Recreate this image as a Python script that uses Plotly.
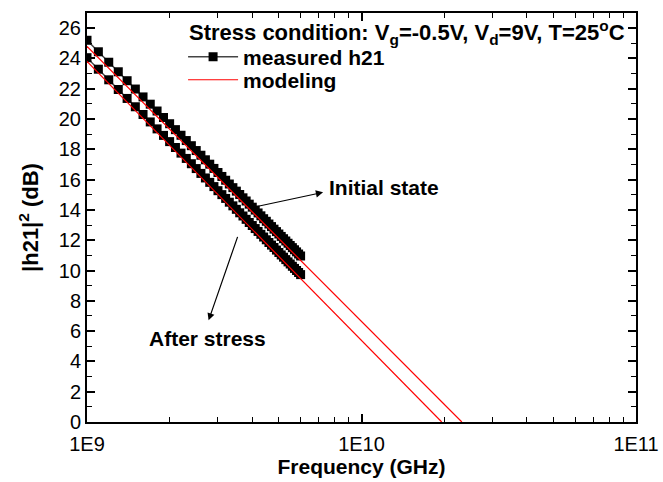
import plotly.graph_objects as go

# Frequency points of the measurement (GHz)
freq_ghz = [1.0, 1.1, 1.2, 1.3, 1.4, 1.5, 1.6, 1.7, 1.8, 1.9, 2.0, 2.1, 2.2, 2.3, 2.4, 2.5,
            2.6, 2.7, 2.8, 2.9, 3.0, 3.1, 3.2, 3.3, 3.4, 3.5, 3.6, 3.7, 3.8, 3.9, 4.0, 4.1,
            4.2, 4.3, 4.4, 4.5, 4.6, 4.7, 4.8, 4.9, 5.0, 5.1, 5.2, 5.3, 5.4, 5.5, 5.6, 5.7,
            5.8, 5.9, 6.0]
freq = [f * 1e9 for f in freq_ghz]

h21_initial = [25.20, 24.44, 23.75, 23.12, 22.53, 21.98, 21.46, 20.98, 20.53, 20.10, 19.69,
               19.30, 18.93, 18.58, 18.24, 17.92, 17.61, 17.31, 17.02, 16.74, 16.47, 16.21,
               15.96, 15.71, 15.47, 15.24, 15.02, 14.80, 14.59, 14.38, 14.18, 13.99, 13.80,
               13.61, 13.42, 13.25, 13.07, 12.90, 12.73, 12.57, 12.41, 12.25, 12.10, 11.95,
               11.80, 11.65, 11.51, 11.37, 11.23, 11.09, 10.96]
h21_stress = [24.05, 23.29, 22.59, 21.95, 21.36, 20.81, 20.30, 19.81, 19.35, 18.92, 18.51,
              18.12, 17.75, 17.40, 17.05, 16.73, 16.41, 16.11, 15.82, 15.54, 15.27, 15.01,
              14.76, 14.51, 14.27, 14.04, 13.81, 13.60, 13.38, 13.17, 12.97, 12.77, 12.58,
              12.39, 12.21, 12.03, 11.85, 11.68, 11.52, 11.35, 11.19, 11.03, 10.88, 10.72,
              10.57, 10.43, 10.28, 10.14, 10.00, 9.87, 9.73]

model_initial_f = [1e9, 2.32e10]
model_initial_y = [24.8, 0.0]
model_stress_f = [1e9, 1.96e10]
model_stress_y = [23.8, 0.0]

x_tickvals = [1e9, 1e10, 1e11]
x_ticktext = ["1E9", "1E10", "1E11"]
y_tickvals = [0, 2, 4, 6, 8, 10, 12, 14, 16, 18, 20, 22, 24, 26]

FONT = "Liberation Sans, Arial, sans-serif"

fig = go.Figure()
fig.add_trace(go.Scatter(x=freq, y=h21_initial, mode="lines+markers", name="<b>measured h21</b>",
                         line=dict(color="#444444", width=1.5),
                         marker=dict(symbol="square", size=9, color="black"),
                         showlegend=True, legend="legend"))
fig.add_trace(go.Scatter(x=freq, y=h21_stress, mode="lines+markers", name="<b>measured h21</b>",
                         line=dict(color="#444444", width=1.5),
                         marker=dict(symbol="square", size=9, color="black"),
                         showlegend=False))
fig.add_trace(go.Scatter(x=model_initial_f, y=model_initial_y, mode="lines", name="<b>modeling</b>",
                         line=dict(color="red", width=1.2), showlegend=True, legend="legend2"))
fig.add_trace(go.Scatter(x=model_stress_f, y=model_stress_y, mode="lines", name="<b>modeling</b>",
                         line=dict(color="red", width=1.2), showlegend=False))

minor_x = []
for dec in [1e9, 1e10]:
    for m in range(2, 10):
        minor_x.append(m * dec)

fig.update_xaxes(type="log", range=[9, 11], tickvals=x_tickvals, ticktext=x_ticktext,
                 ticks="inside", ticklen=8, tickwidth=1.5, tickcolor="black",
                 minor=dict(tickvals=minor_x, ticks="inside", ticklen=5, tickwidth=1.2,
                            tickcolor="black"),
                 showline=True, linecolor="black", linewidth=2, mirror="allticks",
                 showgrid=False, zeroline=False, automargin=False, ticklabelstandoff=3,
                 tickfont=dict(family=FONT, size=20, color="black"),
                 title=dict(text="<b>Frequency (GHz)</b>", font=dict(family=FONT, size=21, color="black"),
                            standoff=4))
fig.update_yaxes(range=[0, 27], tickvals=y_tickvals,
                 ticks="inside", ticklen=8, tickwidth=1.5, tickcolor="black",
                 minor=dict(dtick=1, ticks="inside", ticklen=5, tickwidth=1.2, tickcolor="black"),
                 showline=True, linecolor="black", linewidth=2, mirror="allticks",
                 showgrid=False, zeroline=False, automargin=False,
                 tickfont=dict(family=FONT, size=20, color="black"),
                 title=dict(text="<b>|h21|<sup>2</sup> (dB)</b>", font=dict(family=FONT, size=22, color="black"),
                            standoff=14))

legend_common = dict(xanchor="left", yanchor="middle", bgcolor="rgba(0,0,0,0)", borderwidth=0,
                     font=dict(family=FONT, size=21, color="black"), itemwidth=50,
                     tracegroupgap=0)

fig.update_layout(
    width=663, height=482,
    margin=dict(l=87, r=27, t=13, b=60, autoexpand=False),
    plot_bgcolor="white", paper_bgcolor="white",
    font=dict(family=FONT, color="black"),
    legend=dict(x=0.175, y=0.892, **legend_common),
    legend2=dict(x=0.175, y=0.836, **legend_common),
    annotations=[
        dict(x=0.182, y=0.953, xref="paper", yref="paper", xanchor="left", yanchor="middle",
             text="<b>Stress condition: V<sub>g</sub>=-0.5V, V<sub>d</sub>=9V, T=25<sup>o</sup>C</b>",
             showarrow=False, font=dict(family=FONT, size=22, color="black")),
        dict(x=9.86, y=15.16, xref="x", yref="y", text="", showarrow=True,
             arrowhead=2, arrowsize=1.2, arrowwidth=1.2, arrowcolor="black", ax=-70, ay=15),
        dict(x=9.443, y=6.71, xref="x", yref="y", text="", showarrow=True,
             arrowhead=2, arrowsize=1.2, arrowwidth=1.2, arrowcolor="black", ax=29.5, ay=-85),
        dict(x=9.874, y=15.49, xref="x", yref="y", text="<b>Initial state</b>", showarrow=False,
             xanchor="left", yanchor="middle", font=dict(family=FONT, size=21, color="black")),
        dict(x=9.2186, y=5.52, xref="x", yref="y", text="<b>After stress</b>", showarrow=False,
             xanchor="left", yanchor="middle", font=dict(family=FONT, size=21, color="black")),
    ],
)

fig.write_html("out.html")
